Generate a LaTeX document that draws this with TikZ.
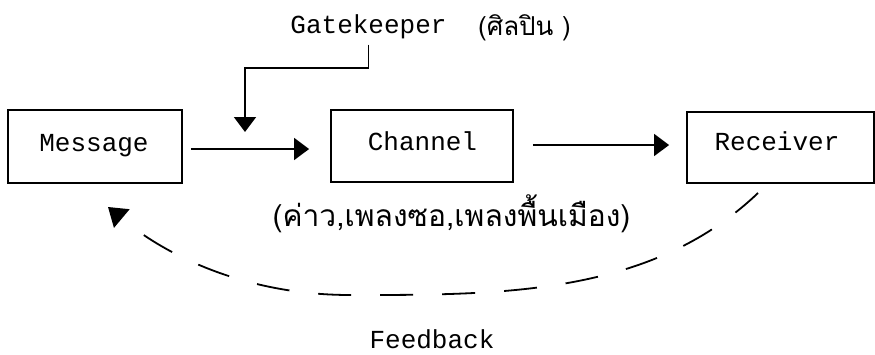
\documentclass[tikz,border=0pt]{standalone}
\usepackage{fontspec}
\setmonofont{Liberation Mono}
\newfontfamily\thaifont[Script=Thai]{Loma}
\usetikzlibrary{arrows.meta}
\begin{document}
\begin{tikzpicture}[x=1pt,y=1pt,
  box/.style={draw, line width=1.8pt, inner sep=0pt},
  lbl/.style={font=\fontsize{26}{30}\selectfont\ttfamily, inner sep=0pt},
  thlbl/.style={font=\fontsize{26}{30}\selectfont\thaifont, inner sep=0pt},
  conn/.style={line width=1.8pt},
  arr/.style={conn, -{Triangle[length=15pt,width=22pt]}},
]
\useasboundingbox (0,0) rectangle (875,-354);
% boxes
\node[box, minimum width=174pt, minimum height=73pt] (msg) at (95,-146.5) {};
\node[box, minimum width=182pt, minimum height=72pt] (chan) at (422,-146) {};
\node[box, minimum width=187pt, minimum height=71pt] (rcv) at (780.5,-147.5) {};
% labels
\node[lbl, anchor=base] (msgt) at (94,-151) {Message};
\node[lbl, anchor=base] (chant) at (422.5,-150) {Channel};
\node[lbl, anchor=base] (rcvt) at (777,-150) {Receiver};
\node[lbl, anchor=base] (gk) at (368.5,-33) {Gatekeeper};
\node[thlbl, anchor=base] (gkth) at (524.5,-35) {(ศิลปิน )};
\node[thlbl, font=\fontsize{30}{34}\selectfont\thaifont, anchor=base] (chanth) at (451.5,-226) {(ค่าว,เพลงซอ,เพลงพื้นเมือง)};
\node[lbl, anchor=base] (fb) at (432,-348) {Feedback};
% connectors
\draw[arr] ([xshift=8pt,yshift=-2.5pt]msg.east) -- ([xshift=-21pt,yshift=-2.5pt]chan.west |- msg.east);
\draw[arr] ([xshift=19pt,yshift=1pt]chan.east) -- ([xshift=-17pt,yshift=1pt]rcv.west |- chan.east);
\coordinate (gkc) at (245,-68);
\coordinate (gkt) at (245,-132);
\draw[arr] ([yshift=-6pt]gk.south) |- (gkc) -- (gkt);
\coordinate (fbtip) at (108,-207);
\coordinate (fbstart) at (758,-193);
\draw[conn, dash pattern=on 33pt off 29pt, dash phase=34pt, {Triangle[length=18pt,width=24pt]}-]
  (fbtip) .. controls (169.3,-258.4) and (250,-295) .. (350,-295)
  .. controls (500,-295) and (650,-296) .. (fbstart);
\end{tikzpicture}
\end{document}
